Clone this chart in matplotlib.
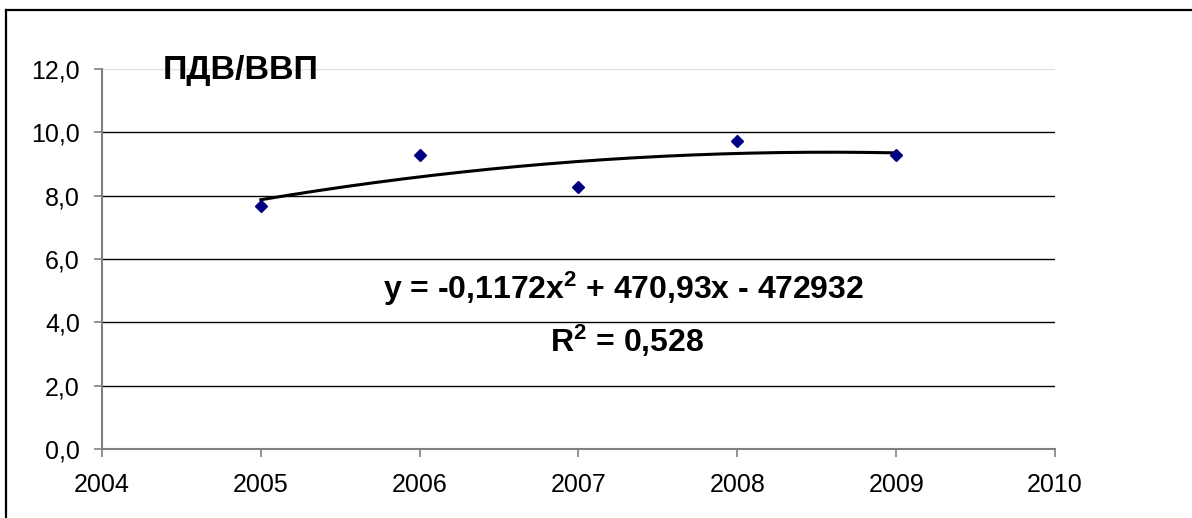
import numpy as np
import matplotlib
matplotlib.use("Agg")
import matplotlib.pyplot as plt
from matplotlib.ticker import FuncFormatter
from matplotlib.lines import Line2D

plt.rcParams['font.family'] = ['Liberation Sans', 'DejaVu Sans']
plt.rcParams['mathtext.fontset'] = 'custom'
plt.rcParams['mathtext.rm'] = 'Liberation Sans:bold'
plt.rcParams['mathtext.it'] = 'Liberation Sans:bold'
plt.rcParams['mathtext.bf'] = 'Liberation Sans:bold'

years = [2005, 2006, 2007, 2008, 2009]
values = [7.66, 9.29, 8.26, 9.73, 9.29]
x_ticks = [2004, 2005, 2006, 2007, 2008, 2009, 2010]
y_ticks = [0, 2, 4, 6, 8, 10, 12]
title = "ПДВ/ВВП"
equation = r"y = -0,1172x$^{2}$ + 470,93x - 472932"
r2_text = r"R$^{2}$ = 0,528"

W, H = 1192, 518
fig = plt.figure(figsize=(W / 100, H / 100), dpi=100)
ax = fig.add_axes([102 / W, 1 - 449 / H, (1055 - 102) / W, (449 - 69) / H])

# polynomial trendline (order 2) fitted to the points
coef = np.polyfit(years, values, 2)
xs = np.linspace(min(years), max(years), 200)
ax.plot(xs, np.polyval(coef, xs), color='black', lw=2.2, zorder=3)

ax.plot(years, values, linestyle='none', marker='D', ms=6.5,
        color='#000080', zorder=4)

ax.set_xlim(2004, 2010)
ax.set_ylim(0, 12)
ax.set_xticks(x_ticks)
ax.set_yticks(y_ticks)
ax.yaxis.set_major_formatter(FuncFormatter(lambda v, p: f"{v:.1f}".replace('.', ',')))
ax.tick_params(axis='both', labelsize=18, colors='#808080', labelcolor='black',
               length=6, width=1.2, direction='out')
ax.tick_params(axis='y', pad=10)
ax.tick_params(axis='x', pad=11)

ax.grid(axis='y', color='black', lw=1.0)
ax.set_axisbelow(True)
gl = ax.yaxis.get_gridlines()
gl[-1].set_color('#e0e0e0')

for s in ['top', 'right']:
    ax.spines[s].set_visible(False)
for s in ['left', 'bottom']:
    ax.spines[s].set_color('#808080')
    ax.spines[s].set_linewidth(1.5)

fig.text(163 / W, 1 - 79 / H, title, fontsize=24.5, fontweight='bold', va='baseline')
fig.text(624 / W, 1 - 299 / H, equation, fontsize=23, fontweight='bold',
         ha='center', va='baseline')
fig.text(627 / W, 1 - 352 / H, r2_text, fontsize=23, fontweight='bold',
         ha='center', va='baseline')

# outer chart frame (only top and left edges visible)
fig.add_artist(Line2D([6 / W, 1], [1 - 10 / H, 1 - 10 / H], transform=fig.transFigure,
                      color='black', lw=1.6))
fig.add_artist(Line2D([6 / W, 6 / W], [0, 1 - 10 / H], transform=fig.transFigure,
                      color='black', lw=1.6))

fig.savefig("out.png", dpi=100)
